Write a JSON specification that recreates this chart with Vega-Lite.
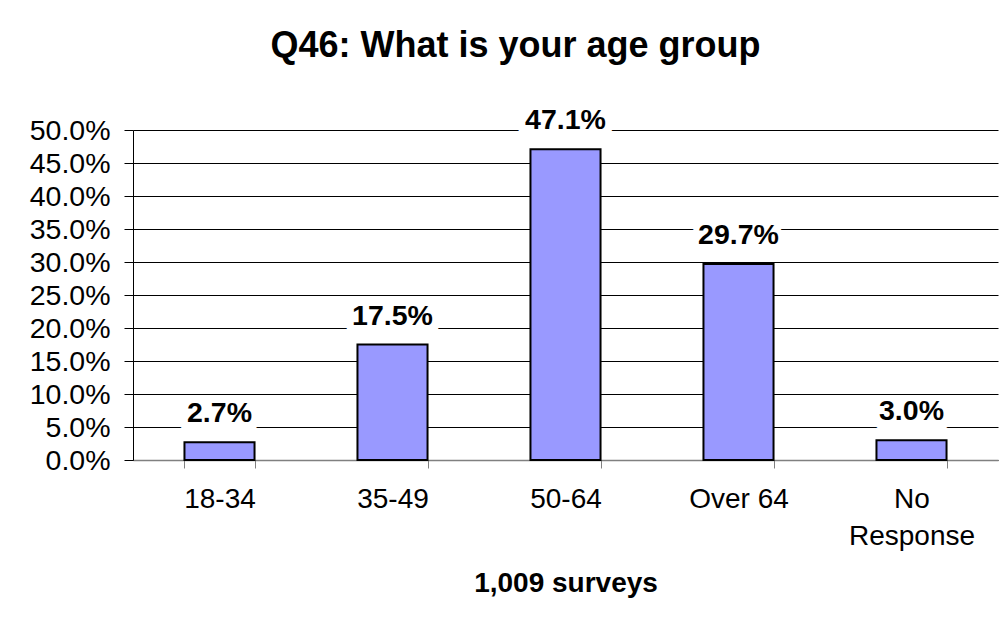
{
  "$schema": "https://vega.github.io/schema/vega-lite/v6.json",
  "autosize": {"type": "none"},
  "padding": {"left": 133, "top": 130, "right": 9, "bottom": 168},
  "width": 865,
  "height": 330,
  "background": "white",
  "config": {
    "view": {"stroke": null},
    "font": "Liberation Sans"
  },
  "title": {
    "text": "Q46: What is your age group",
    "font": "Liberation Sans",
    "fontSize": 36,
    "fontWeight": "bold",
    "color": "black",
    "anchor": "middle",
    "frame": "group",
    "dx": -50,
    "baseline": "alphabetic",
    "offset": 13
  },
  "data": {
    "values": [
      {"group": "18-34", "pct": 0.027},
      {"group": "35-49", "pct": 0.175},
      {"group": "50-64", "pct": 0.471},
      {"group": "Over 64", "pct": 0.297},
      {"group": "No Response", "pct": 0.030}
    ]
  },
  "encoding": {
    "x": {
      "field": "group",
      "type": "nominal",
      "sort": null,
      "scale": {"paddingInner": 0.595, "paddingOuter": 0.2975},
      "axis": {
        "title": "1,009 surveys",
        "titleFont": "Liberation Sans",
        "titleFontSize": 28,
        "titleFontWeight": "bold",
        "titleColor": "black",
        "titlePadding": 19,
        "labelAngle": 0,
        "labelFont": "Liberation Sans",
        "labelFontSize": 28,
        "labelColor": "black",
        "labelPadding": 17,
        "labelLineHeight": 37,
        "labelExpr": "datum.label == 'No Response' ? ['No', 'Response'] : datum.label",
        "tickBand": "extent",
        "tickSize": 8,
        "tickColor": "#808080",
        "tickWidth": 1,
        "domainColor": "#808080",
        "domainWidth": 1.5,
        "grid": false
      }
    },
    "y": {
      "field": "pct",
      "type": "quantitative",
      "scale": {"domain": [0, 0.5], "nice": false},
      "axis": {
        "title": null,
        "format": ".1%",
        "values": [0, 0.05, 0.1, 0.15, 0.2, 0.25, 0.3, 0.35, 0.4, 0.45, 0.5],
        "labelFont": "Liberation Sans",
        "labelFontSize": 28.5,
        "labelColor": "black",
        "labelPadding": 14,
        "tickSize": 9,
        "tickColor": "black",
        "domainColor": "black",
        "grid": true,
        "gridColor": "black",
        "gridOpacity": 1,
        "gridWidth": 1
      }
    }
  },
  "layer": [
    {
      "mark": {"type": "bar", "fill": "#9999FF", "stroke": "black", "strokeWidth": 2}
    },
    {
      "mark": {
        "type": "text",
        "font": "Liberation Sans",
        "fontSize": 28.5,
        "fontWeight": "bold",
        "baseline": "alphabetic",
        "dy": -16,
        "color": "white",
        "stroke": "white",
        "strokeWidth": 14,
        "strokeJoin": "round"
      },
      "encoding": {"text": {"field": "pct", "type": "quantitative", "format": ".1%"}}
    },
    {
      "mark": {
        "type": "text",
        "font": "Liberation Sans",
        "fontSize": 28.5,
        "fontWeight": "bold",
        "baseline": "alphabetic",
        "dy": -20,
        "color": "black"
      },
      "encoding": {"text": {"field": "pct", "type": "quantitative", "format": ".1%"}}
    }
  ]
}
